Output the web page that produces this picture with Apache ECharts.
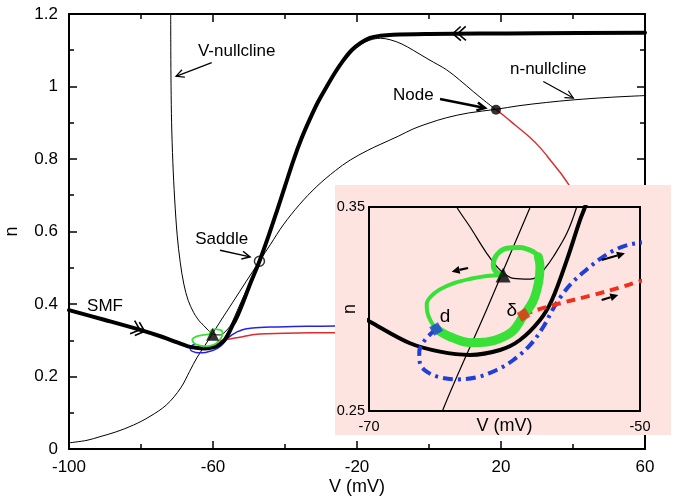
<!DOCTYPE html>
<html><head><meta charset="utf-8">
<script src="https://cdn.jsdelivr.net/npm/echarts@6/dist/echarts.min.js"></script>
<style>html,body{margin:0;padding:0;background:#fff}#c{width:679px;height:504px}</style>
</head><body><div id="c"></div>
<script>
// ---------------- data (V in mV, n) ----------------
const nNullcline = [[-100,0.017],[-95,0.024],[-91.4,0.034],[-87,0.047],[-82.1,0.066],[-77.5,0.09],[-72.9,0.122],[-69,0.168],[-66.5,0.214],[-64.5,0.2513],[-61.3,0.30],[-58.1,0.35],[-54.5,0.405],[-50.8,0.462],[-47.1,0.518],[-44,0.565],[-40.5,0.618],[-36,0.674],[-31.2,0.724],[-26,0.768],[-21.9,0.797],[-17,0.824],[-13.6,0.84],[-8.5,0.863],[-4.4,0.883],[0,0.899],[4.9,0.914],[11,0.927],[18.6,0.937],[25,0.947],[32.7,0.956],[40,0.963],[50,0.97],[60,0.975]];
const vNullcline = [[-71.75,1.2],[-71.72,1.1],[-71.65,1.0],[-71.5,0.9],[-71.15,0.79],[-70.65,0.69],[-69.95,0.59],[-69.1,0.515],[-68.1,0.455],[-66.9,0.41],[-65.4,0.377],[-64.4,0.361],[-63.53,0.35],[-62.55,0.3403],[-61.31,0.3273],[-60.33,0.3191],[-59.35,0.315],[-58.1,0.3146],[-57.6,0.3158],[-57.0,0.32],[-56.4,0.3256],[-55.4,0.3371],[-54.67,0.35],[-53.2,0.383],[-51,0.432],[-49,0.474],[-47.1,0.518],[-44.6,0.585],[-42.3,0.652],[-40,0.722],[-37.7,0.792],[-35.4,0.854],[-33.1,0.907],[-30.8,0.955],[-28.4,0.997],[-26,1.037],[-23.8,1.069],[-21.5,1.096],[-19,1.116],[-16.4,1.128],[-13.5,1.133],[-10.8,1.129],[-7.5,1.117],[-4.4,1.1],[0,1.074],[4.9,1.046],[8.5,1.018],[12.3,0.986],[15.5,0.96],[18.6,0.936]];
const manifold = [[-100,0.383],[-90,0.356],[-80,0.328],[-74,0.309],[-69.93,0.2938],[-66.97,0.2832],[-64.76,0.2791],[-62.55,0.2775],[-60.33,0.2799],[-58.86,0.2848],[-57.38,0.2946],[-56.5,0.3044],[-55.4,0.324],[-54.43,0.3436],[-54.06,0.35],[-53,0.372],[-51.5,0.408],[-49.5,0.46],[-47.1,0.518],[-44.5,0.59],[-42.3,0.655],[-40,0.725],[-37.7,0.795],[-35.4,0.857],[-33.1,0.91],[-30.8,0.958],[-28.4,1.0],[-26,1.04],[-23.8,1.072],[-21.5,1.1],[-19,1.12],[-16.4,1.134],[-13.5,1.14],[-10,1.143],[0,1.145],[14,1.146],[30,1.147],[60,1.148]];
const nodeBranch = [[18.6,0.936],[21,0.918],[24,0.893],[28,0.86],[31,0.83],[34,0.793],[36.5,0.762],[38.9,0.728]];
const blueTraj = [[-65.05,0.2902],[-65.87,0.2848],[-66.29,0.2791],[-66.24,0.2734],[-65.74,0.2693],[-64.76,0.2665],[-63.53,0.2655],[-62.05,0.2665],[-60.58,0.2701],[-59.35,0.275],[-58.1,0.2824],[-57.13,0.2913],[-56.4,0.3003],[-55.8,0.3065],[-55.0,0.313],[-54.0,0.319],[-53.0,0.3243],[-52.0,0.3285],[-51.0,0.3312],[-50.0,0.3325],[-47,0.335],[-43,0.3365],[-37.7,0.338],[-32,0.3385],[-26.1,0.339]];
const redTraj = [[-58.6,0.2971],[-57.62,0.2995],[-55.9,0.3028],[-53.44,0.3069],[-51.5,0.3105],[-50.1,0.3134],[-48.5,0.316],[-45,0.318],[-40,0.3195],[-33,0.3205],[-26.1,0.321]];
const greenThin = [[-60.1,0.3167],[-61.31,0.3162],[-62.5,0.3148],[-63.78,0.3126],[-64.8,0.3095],[-65.45,0.306],[-65.74,0.3025],[-65.7,0.2985],[-65.45,0.2942],[-65.05,0.2902]];
const greenThick = [[-65.05,0.2902],[-64.02,0.2864],[-62.55,0.2835],[-61.3,0.2838],[-60.33,0.2856],[-59.35,0.2895],[-58.6,0.2968],[-57.9,0.3038],[-57.5,0.3126],[-57.38,0.3207],[-57.5,0.3256]];
const greenTop = [[-57.5,0.3256],[-57.87,0.3281],[-58.86,0.3302],[-59.84,0.3298],[-60.58,0.3265],[-60.83,0.3216],[-60.6,0.318],[-60.1,0.3167]];
const focusPt = [[-60.1,0.3167]];
const saddlePt = [[-47.1,0.518]];
const nodePt = [[18.6,0.936]];
const dPt = [[-65.05,0.2902]];
const deltaPt = [[-58.6,0.2971]];

// annotations (data coordinates)
const mainLabels = [
  {text:'V-nullcline', at:[-53.42,1.097]},
  {text:'n-nullcline', at:[33.14,1.048]},
  {text:'Node', at:[-4.36,0.977]},
  {text:'Saddle', at:[-57.58,0.579]},
  {text:'SMF', at:[-90,0.393]}
];
const mainArrows = [
  {from:[-60.36,1.066], to:[-70.28,1.028], w:1.2},
  {from:[31.75,1.014], to:[40.1,0.968], w:1.2},
  {from:[3.06,0.9655], to:[15.56,0.9407], w:2.5},
  {from:[-58.06,0.548], to:[-49.72,0.53], w:1.5}
];
const chevrons = [
  {at:[-80.3,0.329], toward:[-70,0.294]},
  {at:[8,1.146], toward:[-10,1.143]}
];
const insetLabels = [{text:'d', at:[-64.39,0.2962]},{text:'δ', at:[-59.47,0.2992]}];
const insetArrows = [
  {from:[-62.69,0.3201], to:[-63.9,0.3183]},
  {from:[-52.83,0.324], to:[-51.11,0.3273]},
  {from:[-52.83,0.3044], to:[-51.6,0.3069]}
];

// ---------------- chart ----------------
const FONT = '"Liberation Sans", Arial, Helvetica, sans-serif';
const chart = echarts.init(document.getElementById('c'), null, {renderer:'canvas'});

function mainX(pos, showLabel){
  return {gridIndex:0, type:'value', min:-100, max:60, interval:40, position:pos,
    axisLine:{onZero:false, lineStyle:{color:'#000', width:2}},
    axisTick:{inside:true, length:8, lineStyle:{color:'#000', width:1.5}},
    minorTick:{show:true, splitNumber:2, length:5, lineStyle:{color:'#000', width:1.5}},
    splitLine:{show:false}, minorSplitLine:{show:false},
    axisLabel:{show:showLabel, color:'#000', fontSize:17, fontFamily:FONT, margin:10},
    name: showLabel ? 'V (mV)' : '', nameLocation:'middle', nameGap:29, nameMoveOverlap:false,
    nameTextStyle:{color:'#000', fontSize:18, fontFamily:FONT}};
}
function mainY(pos, showLabel){
  return {gridIndex:0, type:'value', min:0, max:1.2, interval:0.2, position:pos,
    axisLine:{onZero:false, lineStyle:{color:'#000', width:2}},
    axisTick:{inside:true, length:8, lineStyle:{color:'#000', width:1.5}},
    minorTick:{show:true, splitNumber:2, length:5, lineStyle:{color:'#000', width:1.5}},
    splitLine:{show:false}, minorSplitLine:{show:false},
    axisLabel:{show:showLabel, color:'#000', fontSize:17, fontFamily:FONT, margin:11},
    name: showLabel ? 'n' : '', nameLocation:'middle', nameGap:48, nameMoveOverlap:false,
    nameTextStyle:{color:'#000', fontSize:18, fontFamily:FONT}};
}
function insetX(pos, showLabel){
  return {gridIndex:1, type:'value', min:-70, max:-50, interval:20, position:pos, z:10,
    axisLine:{onZero:false, lineStyle:{color:'#000', width:2}},
    axisTick:{show:false}, splitLine:{show:false},
    axisLabel:{show:showLabel, color:'#000', fontSize:14.5, fontFamily:FONT, margin:8},
    name: showLabel ? 'V (mV)' : '', nameLocation:'middle', nameGap:6, nameMoveOverlap:false,
    nameTextStyle:{color:'#000', fontSize:18, fontFamily:FONT}};
}
function insetY(pos, showLabel){
  return {gridIndex:1, type:'value', min:0.25, max:0.35, interval:0.1, position:pos, z:10,
    axisLine:{onZero:false, lineStyle:{color:'#000', width:2}},
    axisTick:{show:false}, splitLine:{show:false},
    axisLabel:{show:showLabel, color:'#000', fontSize:14.5, fontFamily:FONT, margin:4},
    name: showLabel ? 'n' : '', nameLocation:'middle', nameGap:10, nameMoveOverlap:false,
    nameTextStyle:{color:'#000', fontSize:18, fontFamily:FONT}};
}

function ln(data, inset, color, width, extra){
  const s = {type:'line', xAxisIndex: inset?2:0, yAxisIndex: inset?2:0, data:data,
    symbol:'none', showSymbol:false, smooth:0.35, clip:true, silent:true,
    lineStyle:{color:color, width:width, cap:'round', join:'round'}, z: inset?12:2};
  if (extra) Object.assign(s.lineStyle, extra);
  return s;
}
function sc(data, inset, symbol, size, style, rot){
  return {type:'scatter', xAxisIndex: inset?2:0, yAxisIndex: inset?2:0, data:data,
    symbol:symbol, symbolSize:size, symbolRotate:rot||0, itemStyle:style, silent:true, z: inset?14:4, clip:false};
}
const greenLoop = greenThin.concat(greenThick.slice(1), greenTop.slice(1));
const GREEN = '#38e038';

chart.setOption({
  animation:false,
  backgroundColor:'#fff',
  grid:[{left:69, top:14, width:576, height:435, containLabel:false, outerBoundsMode:'none'},
        {left:369, top:207, width:271, height:204, containLabel:false, outerBoundsMode:'none'}],
  xAxis:[mainX('bottom', true), mainX('top', false), insetX('bottom', true), insetX('top', false)],
  yAxis:[mainY('left', true), mainY('right', false), insetY('left', true), insetY('right', false)],
  series:[
    ln(nNullcline, false, '#000', 1),
    ln(vNullcline, false, '#000', 1),
    ln(nodeBranch, false, '#d83030', 1.5),
    ln(blueTraj, false, '#2323e6', 1.5),
    ln(redTraj, false, '#e02a2a', 1.5),
    ln(manifold, false, '#000', 4),
    ln(greenLoop, false, GREEN, 1.8),
    sc(focusPt, false, 'triangle', 13, {color:'#000'}),
    sc(saddlePt, false, 'circle', 10, {color:'rgba(0,0,0,0)', borderColor:'#000', borderWidth:1.5}),
    sc(nodePt, false, 'circle', 10, {color:'#000'}),
    // inset
    ln(nNullcline, true, '#000', 1.2),
    ln(vNullcline, true, '#000', 1.2),
    ln(manifold, true, '#000', 4),
    ln(blueTraj, true, '#1f3fd8', 4, {type:[10,5,3,5], cap:'butt'}),
    ln(redTraj, true, '#f0301c', 4, {type:[9,6], cap:'butt'}),
    ln(greenThin, true, GREEN, 4),
    ln(greenTop, true, GREEN, 5),
    ln(greenThick, true, GREEN, 9),
    sc(focusPt, true, 'triangle', 15, {color:'#000'}),
    sc(dPt, true, 'rect', 10, {color:'#1f3fe0'}, 30),
    sc(deltaPt, true, 'rect', 10, {color:'#ee2a12'}, 30)
  ]
});

// ------------- annotations placed from data coordinates -------------
const P0 = p => chart.convertToPixel({xAxisIndex:0, yAxisIndex:0}, p);
const P1 = p => chart.convertToPixel({xAxisIndex:2, yAxisIndex:2}, p);
function arrow(a, b, w, hl, hw, filled, z, color){
  const c = color || '#000';
  const dx=b[0]-a[0], dy=b[1]-a[1], L=Math.hypot(dx,dy), ux=dx/L, uy=dy/L, px=-uy, py=ux;
  const base=[b[0]-ux*hl, b[1]-uy*hl];
  const l=[base[0]+px*hw, base[1]+py*hw], r=[base[0]-px*hw, base[1]-py*hw];
  const els=[{type:'polyline', z:z, silent:true, shape:{points:[a, filled?base:b]}, style:{stroke:c, lineWidth:w, fill:null}}];
  if (filled) els.push({type:'polygon', z:z, silent:true, shape:{points:[b,l,r]}, style:{fill:c}});
  else els.push({type:'polyline', z:z, silent:true, shape:{points:[l,b,r]}, style:{stroke:c, lineWidth:w, fill:null}});
  return els;
}
function chevron(at, toward, z){
  const a=P0(at), t=P0(toward);
  const dx=t[0]-a[0], dy=t[1]-a[1], L=Math.hypot(dx,dy), ux=dx/L, uy=dy/L, px=-uy, py=ux;
  const els=[];
  [0,5].forEach(k=>{
    const tip=[a[0]+ux*k, a[1]+uy*k];
    const b=[tip[0]-ux*8, tip[1]-uy*8];
    els.push({type:'polyline', z:z, silent:true, shape:{points:[[b[0]+px*7,b[1]+py*7], tip, [b[0]-px*7,b[1]-py*7]]}, style:{stroke:'#000', lineWidth:1.6, fill:null}});
  });
  return els;
}
function txt(p, s, size, z){
  return {type:'text', z:z, silent:true, x:p[0], y:p[1],
    style:{text:s, fill:'#000', font:size+'px "Liberation Sans", Arial, sans-serif',
      align:'center', verticalAlign:'middle', textAlign:'center', textVerticalAlign:'middle'}};
}
let g = [];
// pink inset panel
g.push({type:'rect', z:5, silent:true, shape:{x:335, y:185, width:336, height:250}, style:{fill:'#fde4e1'}});
mainLabels.forEach(o=>g.push(txt(P0(o.at), o.text, 17, 3)));
mainArrows.forEach(o=>{ g = g.concat(arrow(P0(o.from), P0(o.to), o.w, 8, 4, false, 3)); });
chevrons.forEach(o=>{ g = g.concat(chevron(o.at, o.toward, 3)); });
insetLabels.forEach(o=>g.push(txt(P1(o.at), o.text, 19, 20)));
insetArrows.forEach(o=>{ g = g.concat(arrow(P1(o.from), P1(o.to), 2.2, 8, 4, true, 20)); });
chart.setOption({graphic:{elements:g}});
</script></body></html>
